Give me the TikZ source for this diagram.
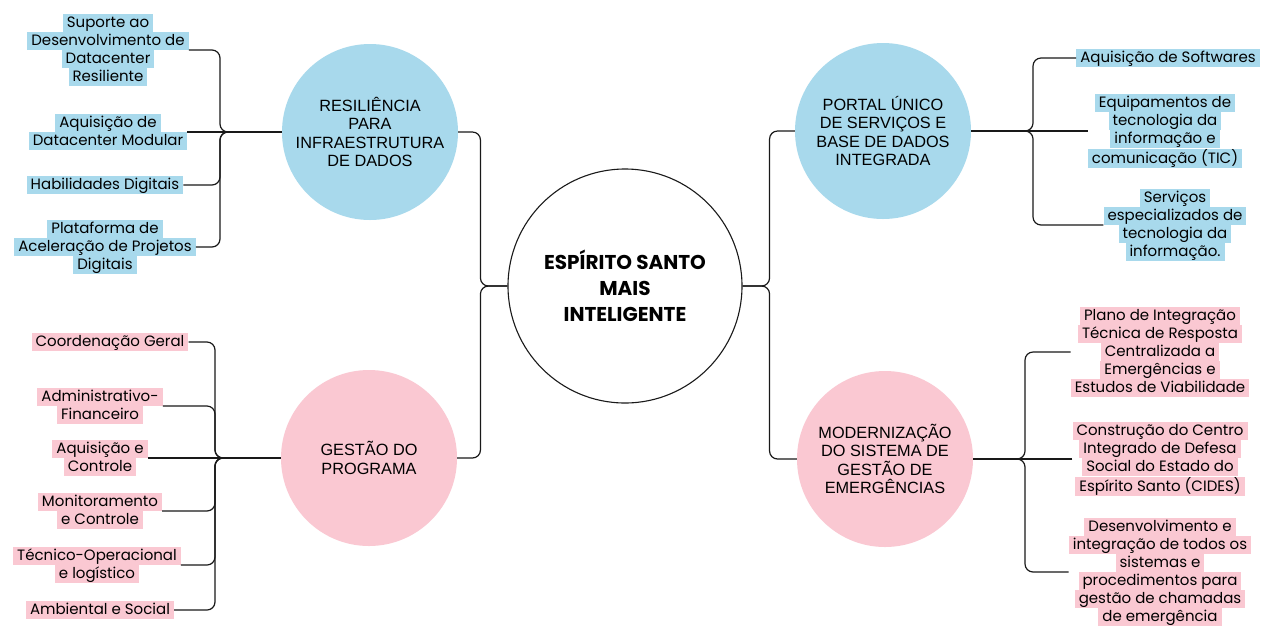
\documentclass[tikz,border=0pt]{standalone}
\usepackage{fontspec}
\setmainfont{Poppins}
\newfontfamily\circfont{Liberation Sans}

\definecolor{blueleaf}{RGB}{168,217,236}
\definecolor{pinkleaf}{RGB}{250,200,210}
\definecolor{linecol}{RGB}{25,25,25}

\setlength{\fboxsep}{0pt}
\newcommand{\bl}[1]{\colorbox{blueleaf}{\hspace{4pt}\rule[-4.5pt]{0pt}{18pt}#1\hspace{4pt}}}
\newcommand{\pk}[1]{\colorbox{pinkleaf}{\hspace{4pt}\rule[-4.5pt]{0pt}{18pt}#1\hspace{4pt}}}

\begin{document}
\begin{tikzpicture}[x=1pt, y=-1pt, 
    hub/.style = {circle, draw=linecol, line width=1.1pt, minimum size=234pt, inner sep=0pt, align=center, font=\fontsize{20}{26}\selectfont\bfseries},
    topic/.style = {circle, minimum size=176pt, inner sep=0pt, align=center, font=\circfont\fontsize{16.3}{18.5}\selectfont},
    leaf/.style = {inner sep=0pt, align=center, font=\fontsize{15}{18}\selectfont},
    link/.style = {draw=linecol, line width=1.2pt, rounded corners=8pt}]
    \useasboundingbox[fill=white] (0,0) rectangle (1268,625);

    % Nodes
    \node[hub] (main) at (625,286) {ESPÍRITO SANTO\\MAIS\\INTELIGENTE};

    \node[topic, fill=blueleaf] (res) at (370,132) {RESILIÊNCIA\\PARA\\INFRAESTRUTURA\\DE DADOS};
    \node[topic, fill=pinkleaf] (ges) at (369,458) {GESTÃO DO\\PROGRAMA};
    \node[topic, fill=blueleaf] (por) at (883,131) {PORTAL ÚNICO\\DE SERVIÇOS E\\BASE DE DADOS\\INTEGRADA};
    \node[topic, fill=pinkleaf] (mod) at (885,459) {MODERNIZAÇÃO\\DO SISTEMA DE\\GESTÃO DE\\EMERGÊNCIAS};

    % Junctions
    \coordinate (resj) at (220,132);
    \coordinate (gesj) at (215,458);
    \coordinate (porj) at (1033,131);
    \coordinate (modj) at (1025,459);

    % Leaves, left
    \node[leaf] (sup) at (108,50) {\bl{Suporte ao}\\\bl{Desenvolvimento de}\\\bl{Datacenter}\\\bl{Resiliente}};
    \node[leaf] (adc) at (108,132) {\bl{Aquisição de}\\\bl{Datacenter Modular}};
    \node[leaf] (hab) at (105,185) {\bl{Habilidades Digitais}};
    \node[leaf] (pla) at (105,247) {\bl{Plataforma de}\\\bl{Aceleração de Projetos}\\\bl{Digitais}};

    \node[leaf] (coo) at (110,342) {\pk{Coordenação Geral}};
    \node[leaf] (adm) at (100,406) {\pk{Administrativo-}\\\pk{Financeiro}};
    \node[leaf] (aqc) at (100,458) {\pk{Aquisição e}\\\pk{Controle}};
    \node[leaf] (mon) at (100,511) {\pk{Monitoramento}\\\pk{e Controle}};
    \node[leaf] (tec) at (97,565) {\pk{Técnico-Operacional}\\\pk{e logístico}};
    \node[leaf] (amb) at (100,610) {\pk{Ambiental e Social}};

    % Leaves, right
    \node[leaf] (sof) at (1168,58) {\bl{Aquisição de Softwares}};
    \node[leaf] (equ) at (1165,131) {\bl{Equipamentos de}\\\bl{tecnologia da}\\\bl{informação e}\\\bl{comunicação (TIC)}};
    \node[leaf] (ser) at (1175,225) {\bl{Serviços}\\\bl{especializados de}\\\bl{tecnologia da}\\\bl{informação.}};

    \node[leaf] (pit) at (1160,352) {\pk{Plano de Integração}\\\pk{Técnica de Resposta}\\\pk{Centralizada a}\\\pk{Emergências e}\\\pk{Estudos de Viabilidade}};
    \node[leaf] (cid) at (1160,459) {\pk{Construção do Centro}\\\pk{Integrado de Defesa}\\\pk{Social do Estado do}\\\pk{Espírito Santo (CIDES)}};
    \node[leaf] (dev) at (1160,572) {\pk{Desenvolvimento e}\\\pk{integração de todos os}\\\pk{sistemas e}\\\pk{procedimentos para}\\\pk{gestão de chamadas}\\\pk{de emergência}};

    % Edges
    \path[link] (main.west) -- ++(-27,0) |- (res.east);
    \path[link] (main.west) -- ++(-27,0) |- (ges.east);
    \path[link] (main.east) -- ++(27,0) |- (por.west);
    \path[link] (main.east) -- ++(27,0) |- (mod.west);

    \path[link] (adc.east) -- (res.west);
    \foreach \n in {sup, hab, pla}
        \path[link] (\n.east) -| (resj) -- (res.west);
    \path[link] (aqc.east) -- (ges.west);
    \foreach \n in {coo, adm, mon, tec, amb}
        \path[link] (\n.east) -| (gesj) -- (ges.west);
    \path[link] (equ.west) -- (por.east);
    \foreach \n in {sof, ser}
        \path[link] (\n.west) -| (porj) -- (por.east);
    \path[link] (cid.west) -- (mod.east);
    \foreach \n in {pit, dev}
        \path[link] (\n.west) -| (modj) -- (mod.east);

\end{tikzpicture}
\end{document}
